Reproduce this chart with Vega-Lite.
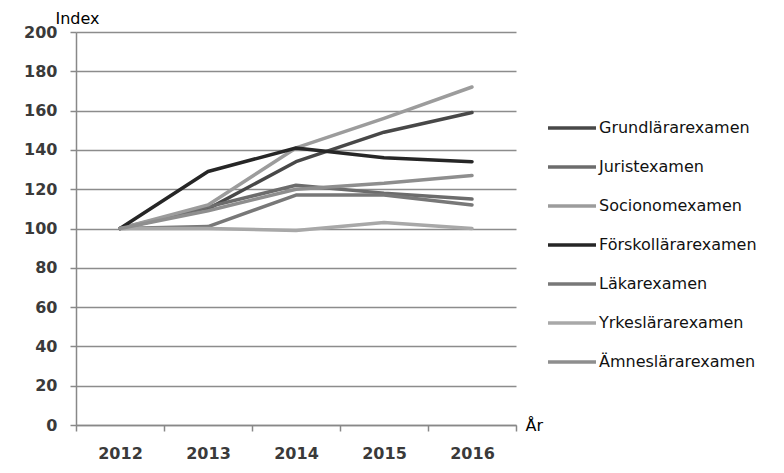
{
  "$schema": "https://vega.github.io/schema/vega-lite/v6.json",
  "width": 440,
  "height": 393,
  "autosize": "none",
  "padding": {"left": 76, "top": 32, "right": 268, "bottom": 48},
  "background": "white",
  "config": {"view": {"stroke": null}, "font": "DejaVu Sans"},
  "data": {"values": [
    {"serie": "Grundlärarexamen", "ar": "2012", "index": 100},
    {"serie": "Grundlärarexamen", "ar": "2013", "index": 110},
    {"serie": "Grundlärarexamen", "ar": "2014", "index": 134},
    {"serie": "Grundlärarexamen", "ar": "2015", "index": 149},
    {"serie": "Grundlärarexamen", "ar": "2016", "index": 159},
    {"serie": "Juristexamen", "ar": "2012", "index": 100},
    {"serie": "Juristexamen", "ar": "2013", "index": 111},
    {"serie": "Juristexamen", "ar": "2014", "index": 122},
    {"serie": "Juristexamen", "ar": "2015", "index": 118},
    {"serie": "Juristexamen", "ar": "2016", "index": 115},
    {"serie": "Socionomexamen", "ar": "2012", "index": 100},
    {"serie": "Socionomexamen", "ar": "2013", "index": 112},
    {"serie": "Socionomexamen", "ar": "2014", "index": 141},
    {"serie": "Socionomexamen", "ar": "2015", "index": 156},
    {"serie": "Socionomexamen", "ar": "2016", "index": 172},
    {"serie": "Förskollärarexamen", "ar": "2012", "index": 100},
    {"serie": "Förskollärarexamen", "ar": "2013", "index": 129},
    {"serie": "Förskollärarexamen", "ar": "2014", "index": 141},
    {"serie": "Förskollärarexamen", "ar": "2015", "index": 136},
    {"serie": "Förskollärarexamen", "ar": "2016", "index": 134},
    {"serie": "Läkarexamen", "ar": "2012", "index": 100},
    {"serie": "Läkarexamen", "ar": "2013", "index": 101},
    {"serie": "Läkarexamen", "ar": "2014", "index": 117},
    {"serie": "Läkarexamen", "ar": "2015", "index": 117},
    {"serie": "Läkarexamen", "ar": "2016", "index": 112},
    {"serie": "Yrkeslärarexamen", "ar": "2012", "index": 100},
    {"serie": "Yrkeslärarexamen", "ar": "2013", "index": 100},
    {"serie": "Yrkeslärarexamen", "ar": "2014", "index": 99},
    {"serie": "Yrkeslärarexamen", "ar": "2015", "index": 103},
    {"serie": "Yrkeslärarexamen", "ar": "2016", "index": 100},
    {"serie": "Ämneslärarexamen", "ar": "2012", "index": 100},
    {"serie": "Ämneslärarexamen", "ar": "2013", "index": 109},
    {"serie": "Ämneslärarexamen", "ar": "2014", "index": 120},
    {"serie": "Ämneslärarexamen", "ar": "2015", "index": 123},
    {"serie": "Ämneslärarexamen", "ar": "2016", "index": 127}
  ]},
  "mark": {"type": "line", "strokeWidth": 3.5, "strokeCap": "round", "strokeJoin": "round"},
  "encoding": {
    "x": {
      "field": "ar", "type": "ordinal",
      "bandPosition": 0.5,
      "scale": {"type": "band", "paddingInner": 0, "paddingOuter": 0},
      "axis": {
        "title": "År", "titleAngle": 0, "titleX": 449, "titleY": 0, "titleAlign": "left",
        "titleBaseline": "middle", "titleFontSize": 16, "titleFontWeight": "normal", "titleColor": "#000",
        "titleFont": "DejaVu Sans",
        "labelAngle": 0, "labelFontSize": 16, "labelFontWeight": "bold", "labelColor": "#3a3a3a", "labelPadding": 14,
        "tickBand": "extent", "tickSize": 6, "tickColor": "#888", "tickWidth": 1.5,
        "domainColor": "#888", "domainWidth": 1.5, "grid": false
      }
    },
    "y": {
      "field": "index", "type": "quantitative",
      "scale": {"domain": [0, 200], "nice": false},
      "axis": {
        "values": [0, 20, 40, 60, 80, 100, 120, 140, 160, 180, 200],
        "title": "Index", "titleAngle": 0, "titleX": -21, "titleY": -9, "titleAlign": "left",
        "titleBaseline": "alphabetic", "titleFontSize": 16, "titleFontWeight": "normal", "titleColor": "#000",
        "labelFontSize": 16, "labelFontWeight": "bold", "labelColor": "#3a3a3a", "labelPadding": 13,
        "tickSize": 6, "tickColor": "#888", "tickWidth": 1.5,
        "domainColor": "#888", "domainWidth": 1.5,
        "grid": true, "gridColor": "#8c8c8c", "gridWidth": 1.3
      }
    },
    "color": {
      "field": "serie", "type": "nominal",
      "sort": ["Grundlärarexamen", "Juristexamen", "Socionomexamen", "Förskollärarexamen", "Läkarexamen", "Yrkeslärarexamen", "Ämneslärarexamen"],
      "scale": {
        "domain": ["Grundlärarexamen", "Juristexamen", "Socionomexamen", "Förskollärarexamen", "Läkarexamen", "Yrkeslärarexamen", "Ämneslärarexamen"],
        "range": ["#484848", "#6c6c6c", "#9c9c9c", "#262626", "#787878", "#a8a8a8", "#8e8e8e"]
      },
      "legend": {
        "title": null, "orient": "none", "legendX": 470, "legendY": 70,
        "symbolType": "stroke", "symbolSize": 2304, "symbolStrokeWidth": 3.5,
        "labelFontSize": 16, "labelColor": "#111", "labelOffset": 1,
        "rowPadding": 5
      }
    }
  }
}
